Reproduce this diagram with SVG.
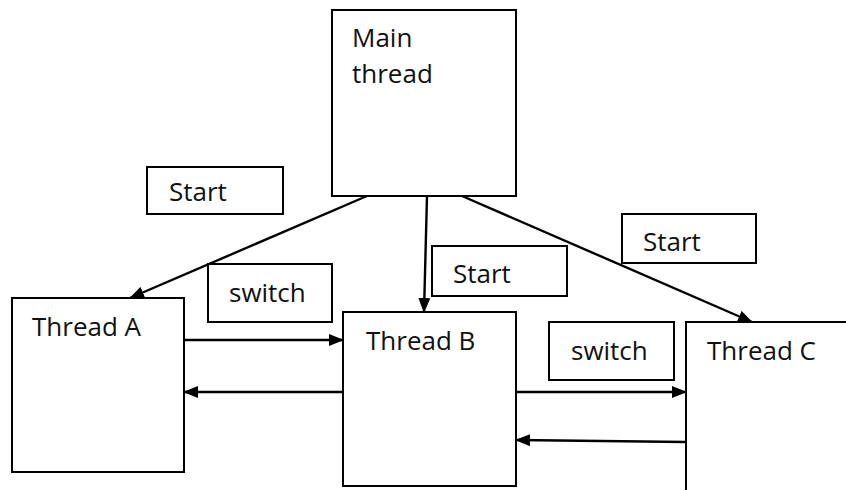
<svg xmlns="http://www.w3.org/2000/svg" width="846" height="490" viewBox="0 0 846 490">
<style>
.box{fill:#fff;stroke:#000;stroke-width:2}
.lbl{font-family:"Open Sans","Noto Sans",sans-serif;font-size:26px;fill:#111}
.con{stroke:#000;stroke-width:2.4;fill:none;marker-end:url(#ah)}
</style>
<defs>
<marker id="ah" markerWidth="15" markerHeight="12" refX="14" refY="6" orient="auto" markerUnits="userSpaceOnUse">
<path d="M0,0 L15,6 L0,12 Z" fill="#000"/>
</marker>
</defs>
<rect width="846" height="490" fill="#fff"/>
<g id="main"><rect class="box" x="332" y="10" width="184" height="186"/><text class="lbl" x="352" y="47">Main</text><text class="lbl" x="352" y="83">thread</text></g>
<g id="threadA"><rect class="box" x="12" y="298" width="172" height="174"/><text class="lbl" x="32" y="336">Thread A</text></g>
<g id="threadB"><rect class="box" x="343" y="312" width="173" height="174"/><text class="lbl" x="366" y="350">Thread B</text></g>
<g id="threadC"><path d="M686,491 L686,322 L847,322" fill="none" stroke="#000" stroke-width="2"/><text class="lbl" x="707" y="360">Thread C</text></g>
<g id="start1"><rect class="box" x="147" y="167" width="136" height="47"/><text class="lbl" x="169" y="201">Start</text></g>
<g id="start2"><rect class="box" x="432" y="246" width="135" height="50"/><text class="lbl" x="453" y="283">Start</text></g>
<g id="start3"><rect class="box" x="622" y="214" width="134" height="49"/><text class="lbl" x="643" y="251">Start</text></g>
<g id="switch1"><rect class="box" x="208" y="264" width="124" height="58"/><text class="lbl" x="229" y="302">switch</text></g>
<g id="switch2"><rect class="box" x="549" y="322" width="125" height="58"/><text class="lbl" x="571" y="360">switch</text></g>
<g id="connectors">
<line class="con" x1="367" y1="196" x2="130" y2="298"/>
<line class="con" x1="427" y1="196" x2="424" y2="312"/>
<line class="con" x1="462" y1="196" x2="752" y2="322"/>
<line class="con" x1="184" y1="340" x2="343" y2="340"/>
<line class="con" x1="343" y1="392" x2="184" y2="392"/>
<line class="con" x1="516" y1="392" x2="686" y2="392"/>
<line class="con" x1="686" y1="442" x2="516" y2="440"/>
</g>
</svg>
